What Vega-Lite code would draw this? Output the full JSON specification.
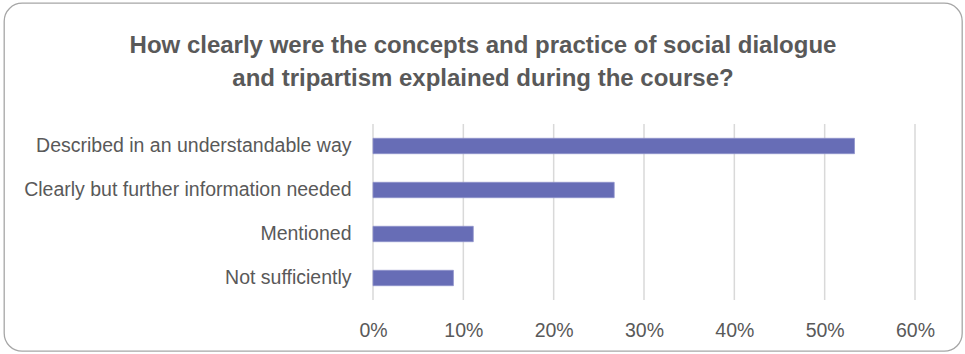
{
  "$schema": "https://vega.github.io/schema/vega-lite/v6.json",
  "width": 958,
  "height": 348,
  "autosize": {"type": "none"},
  "padding": {"left": 4, "top": 3, "right": 3, "bottom": 3},
  "background": "white",
  "title": {
    "text": ["How clearly were the concepts and practice of social dialogue", "and tripartism explained during the course?"],
    "font": "Liberation Sans",
    "fontSize": 24,
    "fontWeight": "bold",
    "color": "#595959",
    "anchor": "middle",
    "frame": "group",
    "offset": -88,
    "lineHeight": 33
  },
  "config": {
    "view": {"stroke": "#a6a6a6", "strokeWidth": 1.3, "cornerRadius": 18, "fill": "white"}
  },
  "resolve": {"scale": {"y": "independent"}},
  "layer": [
    {
      "data": {"values": [{"tick": 0}, {"tick": 0.1}, {"tick": 0.2}, {"tick": 0.3}, {"tick": 0.4}, {"tick": 0.5}, {"tick": 0.6}]},
      "mark": {"type": "rule", "color": "#d9d9d9", "strokeWidth": 1.5},
      "encoding": {
        "x": {
          "field": "tick",
          "type": "quantitative",
          "scale": {"domain": [0, 0.6], "range": [369, 911], "nice": false, "zero": true},
          "axis": {"values": [0, 0.1, 0.2, 0.3, 0.4, 0.5, 0.6], "format": ".0%", "title": null, "domain": false, "ticks": false, "tickSize": 0, "grid": false, "labelFlush": false, "labelFont": "Liberation Sans", "labelFontSize": 19.5, "labelColor": "#595959", "labelPadding": 0, "offset": -30, "orient": "bottom"}
        },
        "y": {"datum": 0, "type": "quantitative", "scale": {"domain": [0, 1], "range": [121, 297]}, "axis": null},
        "y2": {"datum": 1}
      }
    },
    {
      "data": {"values": [
        {"answer": "Described in an understandable way", "share": 0.533},
        {"answer": "Clearly but further information needed", "share": 0.267},
        {"answer": "Mentioned", "share": 0.111},
        {"answer": "Not sufficiently", "share": 0.089}
      ]},
      "mark": {"type": "bar", "color": "#676db6", "stroke": "#8f93cc", "strokeWidth": 0.8},
      "encoding": {
        "y": {
          "field": "answer",
          "type": "nominal",
          "sort": null,
          "scale": {"range": [121, 297], "paddingInner": 0.65, "paddingOuter": 0.325},
          "axis": {"title": null, "domain": false, "ticks": false, "tickSize": 0, "grid": false, "labelPadding": 0, "offset": -347, "labelFont": "Liberation Sans", "labelFontSize": 19.5, "labelColor": "#595959", "labelLimit": 0}
        },
        "x": {
          "field": "share",
          "type": "quantitative",
          "scale": {"domain": [0, 0.6], "range": [369, 911], "nice": false, "zero": true},
          "axis": {"values": [0, 0.1, 0.2, 0.3, 0.4, 0.5, 0.6], "format": ".0%", "title": null, "domain": false, "ticks": false, "tickSize": 0, "grid": false, "labelFlush": false, "labelFont": "Liberation Sans", "labelFontSize": 19.5, "labelColor": "#595959", "labelPadding": 0, "offset": -30, "orient": "bottom"}
        }
      }
    }
  ]
}
